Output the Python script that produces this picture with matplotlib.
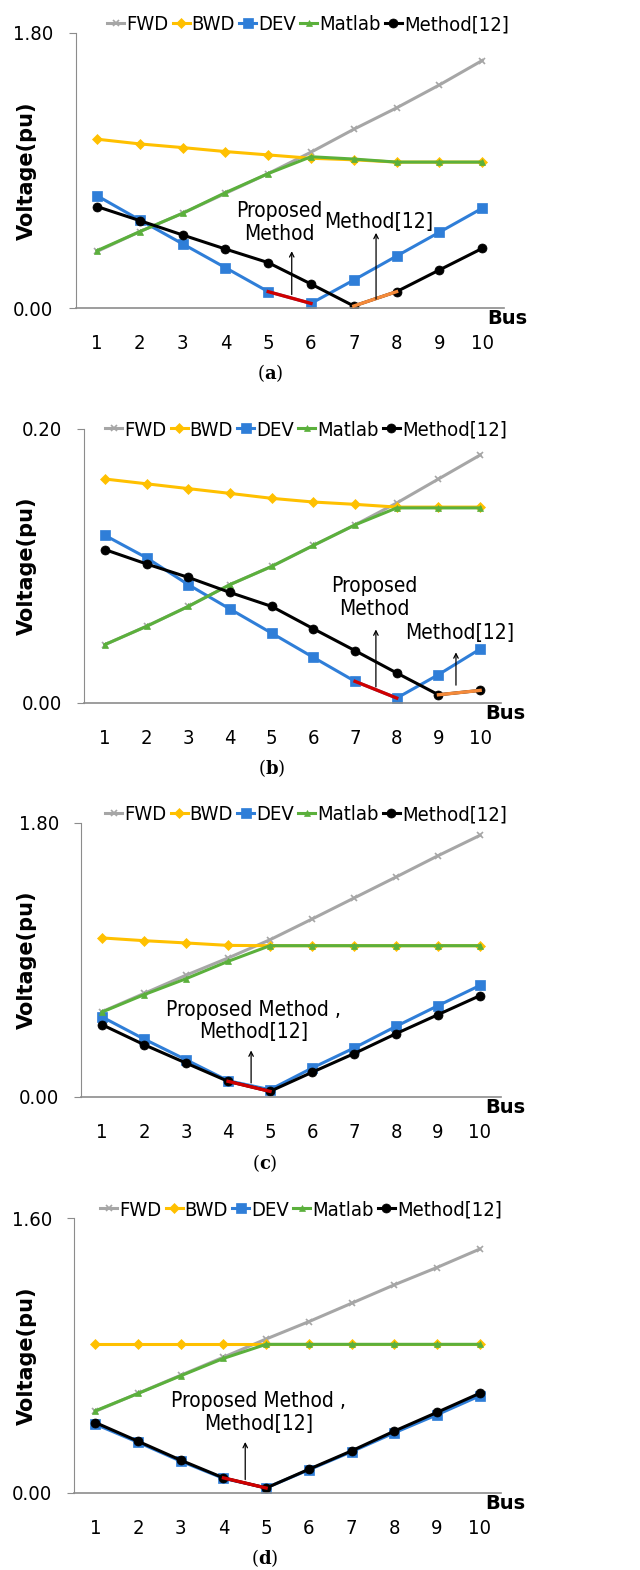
import matplotlib
matplotlib.use("Agg")
import matplotlib.pyplot as plt

plt.rcParams['font.family'] = ['DejaVu Sans']
plt.rcParams['mathtext.fontset'] = 'dejavuserif'

bus = [1, 2, 3, 4, 5, 6, 7, 8, 9, 10]
series_names = ['FWD', 'BWD', 'DEV', 'Matlab', 'Method[12]']

# panel (a)
a_fwd = [0.37, 0.50, 0.62, 0.75, 0.88, 1.02, 1.17, 1.31, 1.46, 1.62]
a_bwd = [1.105, 1.074, 1.05, 1.024, 1.002, 0.98, 0.97, 0.955, 0.955, 0.955]
a_dev = [0.735, 0.576, 0.42, 0.264, 0.107, 0.03, 0.183, 0.34, 0.496, 0.653]
a_matlab = [0.375, 0.50, 0.62, 0.755, 0.88, 0.99, 0.975, 0.955, 0.955, 0.955]
a_m12 = [0.664, 0.572, 0.478, 0.386, 0.297, 0.157, 0.013, 0.107, 0.249, 0.39]

# panel (b)
b_fwd = [0.0426, 0.056, 0.0705, 0.0864, 0.0997, 0.115, 0.130, 0.146, 0.1635, 0.181]
b_bwd = [0.1635, 0.160, 0.1565, 0.153, 0.1494, 0.1467, 0.145, 0.143, 0.143, 0.143]
b_dev = [0.1224, 0.106, 0.0864, 0.0686, 0.051, 0.0333, 0.0158, 0.0036, 0.0207, 0.0394]
b_matlab = [0.0426, 0.056, 0.0705, 0.0864, 0.0997, 0.115, 0.130, 0.1424, 0.1424, 0.1424]
b_m12 = [0.112, 0.1015, 0.0917, 0.0807, 0.0705, 0.0542, 0.0382, 0.0219, 0.006, 0.0092]

# panel (c)
c_fwd = [0.56, 0.68, 0.80, 0.913, 1.033, 1.169, 1.307, 1.445, 1.585, 1.719]
c_bwd = [1.045, 1.027, 1.012, 0.996, 0.994, 0.994, 0.994, 0.994, 0.994, 0.994]
c_dev = [0.526, 0.381, 0.245, 0.107, 0.048, 0.19, 0.322, 0.464, 0.60, 0.733]
c_matlab = [0.558, 0.672, 0.777, 0.891, 0.994, 0.994, 0.994, 0.994, 0.994, 0.994]
c_m12 = [0.475, 0.344, 0.223, 0.103, 0.037, 0.162, 0.285, 0.416, 0.541, 0.666]

# panel (d)
d_fwd = [0.475, 0.58, 0.685, 0.79, 0.896, 0.997, 1.104, 1.211, 1.312, 1.419]
d_bwd = [0.865, 0.865, 0.865, 0.865, 0.865, 0.865, 0.865, 0.865, 0.865, 0.865]
d_dev = [0.40, 0.295, 0.185, 0.085, 0.03, 0.135, 0.24, 0.35, 0.455, 0.565]
d_matlab = [0.478, 0.579, 0.682, 0.783, 0.865, 0.865, 0.865, 0.865, 0.865, 0.865]
d_m12 = [0.41, 0.301, 0.191, 0.088, 0.029, 0.138, 0.245, 0.36, 0.469, 0.58]

colors = ['#A6A6A6', '#FFC000', '#2F7ED8', '#5BB03C', '#000000']
markers = ['x', 'D', 's', '^', 'o']
msizes = [4, 5.5, 6.5, 5, 6.5]

W, H = 640, 1570
fig = plt.figure(figsize=(W / 100, H / 100), dpi=100)
FONT = dict(family='DejaVu Sans', fontstretch='condensed')


def panel(box, data, ymax, ylab, letter, legend_xy, highlights, notes, caption_xy):
    left, right, top, bottom = box
    ax = fig.add_axes([left / W, 1 - bottom / H, (right - left) / W, (bottom - top) / H])
    for vals, name, c, m, ms in zip(data, series_names, colors, markers, msizes):
        ax.plot(bus, vals, color=c, marker=m, markersize=ms, lw=2.2, label=name,
                markeredgewidth=1.2 if m == 'x' else 0.5, markeredgecolor=c)
    # coloured segments
    for idx, i0, c in highlights:
        ax.plot(bus[i0:i0 + 2], data[idx][i0:i0 + 2], color=c, lw=2.4, zorder=3)
    ax.set_xlim(0.5, 10.5)
    ax.set_ylim(0, ymax)
    ax.set_yticks([0, ymax])
    ax.set_yticklabels(['0.00', ylab])
    ax.set_xticks(bus)
    ax.set_xticklabels([str(b) for b in bus])
    for s in ['top', 'right']:
        ax.spines[s].set_visible(False)
    ax.spines['left'].set_color('#8C8C8C')
    ax.spines['bottom'].set_color('#8C8C8C')
    ax.spines['bottom'].set_linewidth(1.2)
    ax.tick_params(axis='y', length=5, color='#8C8C8C', pad=11, labelsize=14.5)
    ax.tick_params(axis='x', length=0, pad=19, labelsize=14.5)
    for t in ax.get_xticklabels() + ax.get_yticklabels():
        t.set_fontstretch('condensed')
    ax.text(0.962, -0.005, 'Bus', transform=ax.transAxes, ha='left', va='top',
            fontsize=14, fontweight='bold')
    fig.text(27 / W, 1 - (top + bottom) / 2 / H, 'Voltage(pu)', rotation=90,
             ha='center', va='center', fontsize=15, fontweight='bold')
    for txt, tx, ty, ax0, ay0, ay1 in notes:
        ax.text(tx, ty, txt, ha='center', va='center', fontsize=15, linespacing=1.15,
                multialignment='center', **FONT)
        ax.annotate('', xy=(ax0, ay1), xytext=(ax0, ay0),
                    arrowprops=dict(arrowstyle='->', color='black', lw=0.9,
                                    mutation_scale=8))
    ax.legend(loc='center', bbox_to_anchor=(legend_xy[0] / W, 1 - legend_xy[1] / H),
              bbox_transform=fig.transFigure, ncol=5, frameon=False,
              handlelength=0.85, handletextpad=0.1, columnspacing=0.2,
              prop=dict(size=14.5, family='DejaVu Sans', stretch='condensed'),
              borderpad=0, borderaxespad=0)
    fig.text(caption_xy[0] / W, 1 - caption_xy[1] / H, '($\\mathbf{' + letter + '}$)',
             ha='center', va='center', fontsize=13, family='DejaVu Serif')
    return ax


panel((75.6, 503.6, 33, 308), [a_fwd, a_bwd, a_dev, a_matlab, a_m12], 1.8, '1.80', 'a',
      (308, 25), [(2, 4, '#D00000'), (4, 6, '#F58A3A')],
      [('Proposed\nMethod', 5.25, 0.56, 5.55, 0.07, 0.39),
       ('Method[12]', 7.57, 0.563, 7.52, 0.04, 0.51)],
      (270, 373))

panel((84, 501, 429, 703), [b_fwd, b_bwd, b_dev, b_matlab, b_m12], 0.2, '0.20', 'b',
      (306, 430), [(2, 6, '#D00000'), (4, 8, '#F58A3A')],
      [('Proposed\nMethod', 7.47, 0.077, 7.5, 0.0097, 0.0557),
       ('Method[12]', 9.51, 0.0513, 9.42, 0.011, 0.039)],
      (272, 768))

panel((81, 501, 823, 1097), [c_fwd, c_bwd, c_dev, c_matlab, c_m12], 1.8, '1.80', 'c',
      (306, 815), [(4, 3, '#D00000')],
      [('Proposed Method ,\nMethod[12]', 4.6, 0.50, 4.55, 0.074, 0.324)],
      (265, 1163))

panel((74, 501, 1218, 1493), [d_fwd, d_bwd, d_dev, d_matlab, d_m12], 1.6, '1.60', 'd',
      (301, 1210), [(4, 3, '#D00000')],
      [('Proposed Method ,\nMethod[12]', 4.82, 0.468, 4.51, 0.062, 0.313)],
      (265, 1558))

fig.savefig('out.png', dpi=100)
